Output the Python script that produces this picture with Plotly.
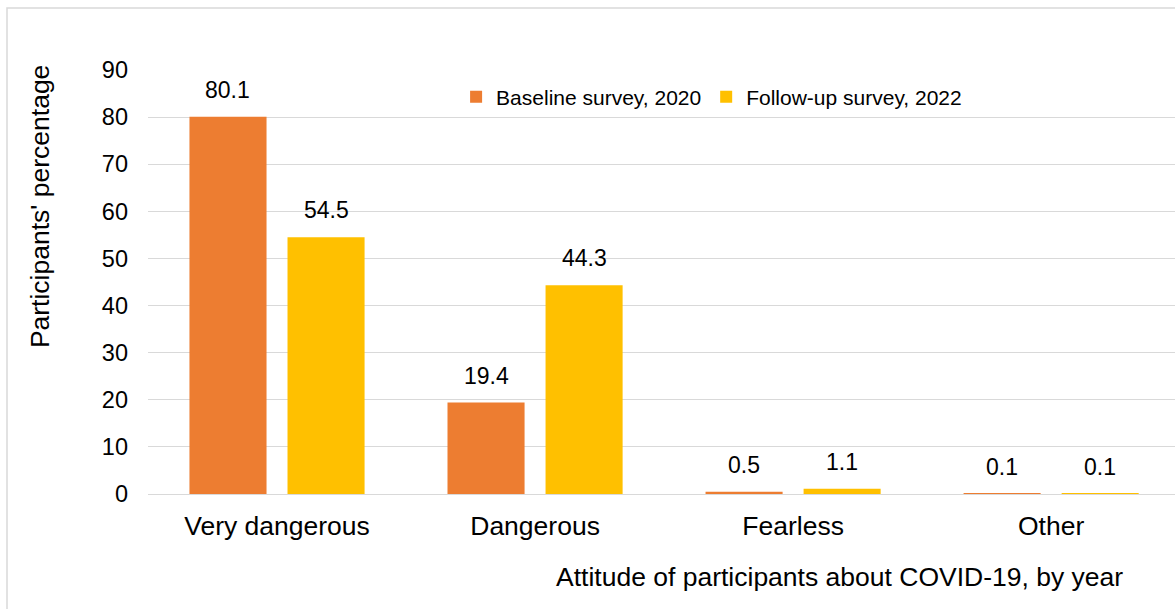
import plotly.graph_objects as go

# Survey results: share of participants by attitude toward COVID-19
categories = ["Very dangerous", "Dangerous", "Fearless", "Other"]
baseline_2020 = [80.1, 19.4, 0.5, 0.1]
followup_2022 = [54.5, 44.3, 1.1, 0.1]
series_names = ["Baseline survey, 2020", "Follow-up survey, 2022"]
series_colors = ["#ED7D31", "#FFC000"]
y_ticks = [0, 10, 20, 30, 40, 50, 60, 70, 80, 90]

FONT = "Liberation Sans, Arial, sans-serif"
TEXT_COLOR = "#000000"
GRID_COLOR = "#D9D9D9"

BARGAP = 0.24
BARGROUPGAP = 0.214

fig = go.Figure()
for name, vals, color in zip(series_names, [baseline_2020, followup_2022], series_colors):
    fig.add_trace(go.Bar(
        x=categories, y=vals, name=name,
        marker=dict(color=color, line=dict(width=0)),
        hoverinfo="x+y+name",
    ))

# Value labels above each bar, centred on the bar within its group
slot = (1 - BARGAP) / 2
annotations = []
for s, vals in enumerate([baseline_2020, followup_2022]):
    offset = (s - 0.5) * slot
    for i, v in enumerate(vals):
        annotations.append(dict(
            x=i + offset, y=v, xref="x", yref="y",
            text=f"{v:.1f}", showarrow=False,
            yanchor="bottom", yshift=12,
            font=dict(family=FONT, size=23, color=TEXT_COLOR),
        ))

# Axis titles
annotations.append(dict(
    text="Participants' percentage", textangle=-90,
    xref="paper", yref="paper", x=-0.105, y=0.677,
    xanchor="center", yanchor="middle", showarrow=False,
    font=dict(family=FONT, size=26.5, color=TEXT_COLOR),
))
annotations.append(dict(
    text="Attitude of participants about COVID-19, by year",
    xref="paper", yref="paper", x=0.951, y=-0.196,
    xanchor="right", yanchor="middle", showarrow=False,
    font=dict(family=FONT, size=26.5, color=TEXT_COLOR),
))

fig.update_layout(
    width=1175, height=609,
    margin=dict(l=148, r=0, t=70, b=115),
    paper_bgcolor="white", plot_bgcolor="white",
    barmode="group", bargap=BARGAP, bargroupgap=BARGROUPGAP,
    font=dict(family=FONT, size=21, color=TEXT_COLOR),
    showlegend=True,
    legend=dict(
        orientation="h", x=0.300, y=0.936, xanchor="left", yanchor="middle",
        font=dict(family=FONT, size=21, color=TEXT_COLOR),
        bgcolor="rgba(0,0,0,0)", itemwidth=30, traceorder="normal",
    ),
    xaxis=dict(
        type="category", range=[-0.5, 3.48],
        showgrid=False, showline=False, zeroline=False,
        ticks="", ticklabelstandoff=13,
        tickfont=dict(family=FONT, size=26.5, color=TEXT_COLOR),
    ),
    yaxis=dict(
        range=[0, 90], tickvals=y_ticks,
        showgrid=True, gridcolor=GRID_COLOR, gridwidth=1.3,
        zeroline=True, zerolinecolor=GRID_COLOR, zerolinewidth=1.3,
        showline=False, ticks="", ticklabelstandoff=19,
        tickfont=dict(family=FONT, size=23.5, color=TEXT_COLOR),
    ),
    annotations=annotations,
    shapes=[dict(
        type="rect", xref="paper", yref="paper",
        x0=-0.1373, y0=-0.5, x1=1.2, y1=1.146,
        line=dict(color=GRID_COLOR, width=1.5), fillcolor="rgba(0,0,0,0)",
        layer="below",
    )],
)

fig.write_html("out.html")
